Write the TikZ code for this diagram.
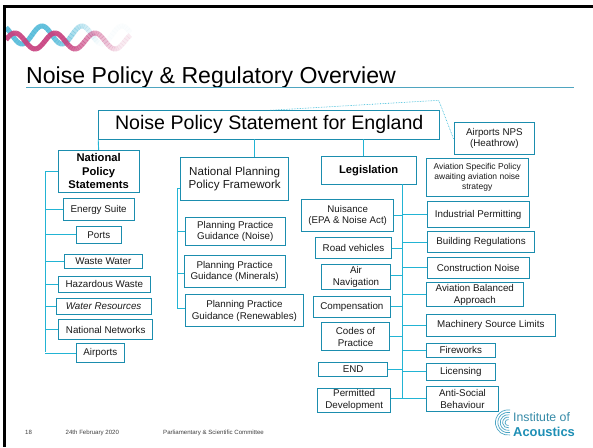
\documentclass[tikz,border=0pt]{standalone}
\usepackage{fontspec}
\setmainfont{Liberation Sans}
\definecolor{boxline}{HTML}{1B8DAE}
\definecolor{conline}{HTML}{22B4D4}
\definecolor{ruleline}{HTML}{4FA5C0}
\definecolor{wblue}{HTML}{4DB8D8}
\definecolor{wpink}{HTML}{C8407F}
\definecolor{logoblue}{HTML}{1E8FB5}
\definecolor{txt}{HTML}{1A1A1A}
\tikzset{
  pbx/.style={draw=boxline,fill=white,line width=1pt,inner sep=0pt,align=center,text=txt,font=\fontsize{9.8}{11.5}\selectfont},
  conn/.style={draw=conline,line width=.9pt},
  dots/.style={draw=conline,line width=.6pt,densely dotted},
  foot/.style={anchor=west,inner sep=0pt,text=black!75,font=\fontsize{6.1}{7}\selectfont}
}
\newcommand\pbox[6][]{%
  \pgfmathsetmacro\cxa{(#3+#5)/2}\pgfmathsetmacro\cya{(#4+#6)/2}%
  \pgfmathsetmacro\wa{#5-#3}\pgfmathsetmacro\ha{#6-#4}%
  \node[pbx,minimum width=\wa pt,minimum height=\ha pt,#1] (#2) at (\cxa,\cya)}
\begin{document}
\begin{tikzpicture}[x=1pt,y=-1pt]
\useasboundingbox (0,0) rectangle (593,447);
\fill[white] (0,0) rectangle (593,447);
% wave logo
\foreach \s in {6,8,...,128}{
  \pgfmathsetmacro\op{\s<50?0.85:max(0.02,0.85-(\s-50)/58)}
  \draw[wblue,line width=5pt,opacity=\op,domain=\s:\s+2.3,samples=4,smooth] plot (\x,{35-9*cos((\x-42)*9)});
}
\foreach \s in {6,8,...,128}{
  \pgfmathsetmacro\op{\s<62?0.9:max(0.1,0.9-(\s-62)/72)}
  \draw[wpink,line width=5pt,opacity=\op,domain=\s:\s+2.3,samples=4,smooth] plot (\x,{41+8*cos((\x-35)*9)});
}
\fill[black] (3,5) rectangle (593,8);
\fill[black] (3,5) rectangle (6,447);
% title
\node[anchor=base west,inner sep=0pt,text=black,font=\fontsize{23.1}{26}\selectfont] (title) at (26,83) {Noise Policy \& Regulatory Overview};
\coordinate (ruleA) at (26,87.3);
\coordinate (ruleB) at (573.7,87.3);
\draw[ruleline,line width=.8pt] (ruleA) -- (ruleB);
% boxes
\pbox[font=\fontsize{19.6}{22}\selectfont,text=black]{main}{98.7}{110.7}{439.7}{139}{Noise Policy Statement for England};
\pbox[font=\bfseries\fontsize{11.2}{13.3}\selectfont,text=black]{nps}{58.3}{150.3}{139}{192}{National\\Policy\\Statements};
\pbox{energy}{63}{198.7}{134.3}{220.3}{Energy Suite};
\pbox{ports}{76.3}{226}{121.3}{243.7}{Ports};
\pbox{waste}{64.7}{254}{142}{268.7}{Waste Water};
\pbox{hazard}{58.3}{276.7}{150.3}{292}{Hazardous Waste};
\pbox[font=\itshape\fontsize{9.8}{11.5}\selectfont]{water}{56.3}{298}{151}{314.3}{Water Resources};
\pbox{networks}{58.7}{319.7}{152.7}{339.3}{National Networks};
\pbox{airports}{76.3}{343.7}{124.3}{362.3}{Airports};
\pbox[font=\fontsize{11.6}{13.3}\selectfont]{nppf}{180.7}{157.3}{288.7}{200.7}{National Planning\\Policy Framework};
\pbox[font=\fontsize{9.8}{11.7}\selectfont]{ppgn}{185.3}{217.3}{285.3}{245.7}{Planning Practice\\Guidance (Noise)};
\pbox[font=\fontsize{9.8}{11.2}\selectfont]{ppgm}{184.3}{255.7}{285}{287.7}{Planning Practice\\Guidance (Minerals)};
\pbox[font=\fontsize{9.8}{12}\selectfont]{ppgr}{185.3}{294.7}{303.5}{326.3}{Planning Practice\\Guidance (Renewables)};
\pbox[font=\bfseries\fontsize{11.2}{13}\selectfont,text=black]{legis}{321.3}{156.3}{416}{184.3}{Legislation};
\pbox[font=\fontsize{9.8}{11}\selectfont]{npsh}{454}{122.7}{534.7}{154.7}{Airports NPS\\(Heathrow)};
\pbox[font=\fontsize{8.5}{10.4}\selectfont]{avspec}{426.3}{158.3}{528}{196.3}{Aviation Specific Policy\\awaiting aviation noise\\strategy};
\pbox[font=\fontsize{9.7}{10.7}\selectfont]{nuis}{301.7}{199.7}{393.7}{231.3}{Nuisance\\(EPA \& Noise Act)};
\pbox{indus}{427.3}{201.3}{529}{227.7}{Industrial Permitting};
\pbox{road}{315.3}{237.7}{391.7}{258.7}{Road vehicles};
\pbox{build}{427.3}{231.3}{534.7}{252.7}{Building Regulations};
\pbox[font=\fontsize{9.8}{12}\selectfont]{airnav}{321.3}{264.7}{390.7}{289.7}{Air\\Navigation};
\pbox{constr}{427.3}{257}{529}{278}{Construction Noise};
\pbox[font=\fontsize{9.8}{12}\selectfont]{avbal}{426.3}{282.3}{523.3}{306.7}{Aviation Balanced\\Approach};
\pbox{comp}{313}{296.3}{390.7}{317.3}{Compensation};
\pbox{mach}{426.3}{314.3}{555.3}{336.3}{Machinery Source Limits};
\pbox[font=\fontsize{9.8}{12}\selectfont]{codes}{321.3}{322.3}{389.7}{350.7}{Codes of\\Practice};
\pbox{fire}{426.3}{343.3}{495.3}{357.3}{Fireworks};
\pbox{endb}{318.7}{362.3}{387.7}{376.3}{END};
\pbox{lic}{426.3}{363.3}{495.3}{380.3}{Licensing};
\pbox[font=\fontsize{9.8}{12}\selectfont]{perm}{317.7}{388}{390.7}{412.7}{Permitted\\Development};
\pbox[font=\fontsize{9.8}{12}\selectfont]{anti}{426.3}{386.3}{498.7}{411}{Anti-Social\\Behaviour};
% trunks
\coordinate (tl) at (45.3,172);
\coordinate (tlb) at (45.3,351.5);
\coordinate (tm) at (177.5,188);
\coordinate (tmb) at (177.5,308.3);
\coordinate (tr) at (402.5,184.3);
\coordinate (trb) at (402.5,398.7);
\draw[conn] (tl) -- (tlb);
\draw[conn] (tm) -- (tmb);
\draw[conn] (tr) -- (trb);
% left branches
\foreach \n in {nps,energy,ports,waste,hazard,water,networks,airports}
  \draw[conn] (\n.west) -- (\n.west -| tl);
% middle branches
\draw[conn] ([yshift=-9.7pt]nppf.west) -- ++(-3.2,0);
\draw[conn] (ppgn.west) -- (ppgn.west -| tm);
\draw[conn] ([yshift=-1.6pt]ppgm.west) -- ++(-6.8,0);
\draw[conn] ([yshift=2.2pt]ppgr.west) -- ++(-7.8,0);
% right branches
\foreach \n in {nuis,road,comp,codes,endb}
  \draw[conn] (\n.east) -- (\n.east -| tr);
\draw[conn] ([yshift=1.9pt]airnav.east) -- ++(11.8,0);
\draw[conn] ([yshift=1.6pt]perm.east) -- ++(11.8,0);
\foreach \n in {indus,build,constr,avbal,mach,fire,lic,anti}
  \draw[conn] (\n.west) -- (\n.west -| tr);
% from main
\coordinate (mainA) at (254.3,139);
\coordinate (mainB) at (363.3,139);
\coordinate (nppfT) at (254.3,157.3);
\coordinate (legT) at (363.3,156.3);
\draw[conn] (main.south west) -- (nps.north);
\draw[conn] (mainA) -- (nppfT);
\draw[conn] (mainB) -- (legT);
\coordinate (dotA) at (270,110.3);
\coordinate (dotB) at (438.7,100.3);
\draw[dots] (dotA) -- (dotB) -- (npsh.west);
% footer
\node[foot] (fnum) at (25,432.7) {18};
\node[foot] (fdate) at (65.5,432.7) {24th February 2020};
\node[foot] (fcom) at (163,432.7) {Parliamentary \& Scientific Committee};
% Institute of Acoustics logo
\foreach \r in {3,5.4,7.8,10.2,12.6}
  \draw[logoblue!80,line width=.7pt] (508,422.5) ++(80:\r) arc[start angle=80,end angle=280,radius=\r];
\node[anchor=base west,inner sep=0pt,text=logoblue!75!gray,font=\fontsize{12.3}{14}\selectfont] (li) at (513,421.3) {Institute of};
\node[anchor=base west,inner sep=0pt,text=logoblue,font=\bfseries\fontsize{12.9}{14}\selectfont] (la) at (513,436) {Acoustics};
\end{tikzpicture}
\end{document}
